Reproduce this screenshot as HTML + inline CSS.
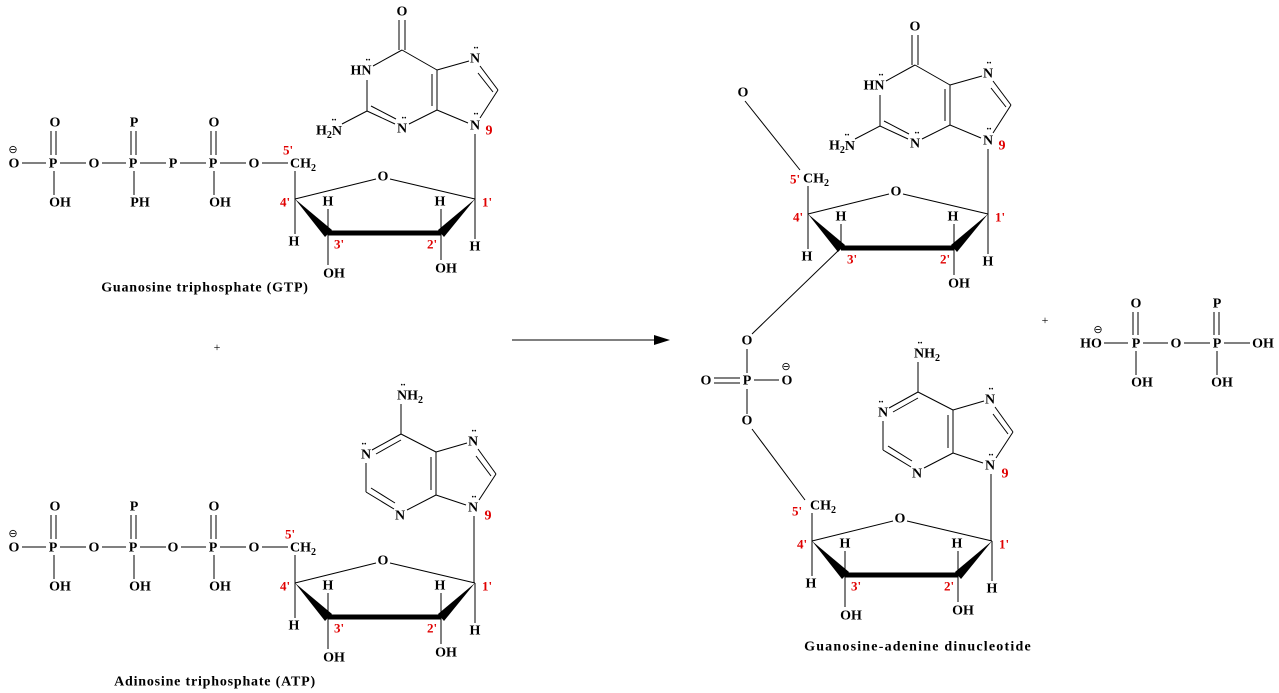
<!DOCTYPE html>
<html><head><meta charset="utf-8"><style>
html,body{margin:0;padding:0;background:#fff;}
svg{display:block;}
text{font-family:"Liberation Serif",serif;font-weight:bold;font-size:14px;fill:#000;text-anchor:middle;dominant-baseline:central;}
.r{fill:#e00000;}
.t{font-size:13px;}
.ti{font-size:14px;letter-spacing:0.8px;}
line,polyline{stroke:#000;stroke-width:1;fill:none;}
.b{stroke-width:5;}
</style></head><body>
<svg width="1279" height="693" viewBox="0 0 1279 693" xmlns="http://www.w3.org/2000/svg">

<g>
<text x="13" y="150" style="font-size:11px;font-weight:normal">⊖</text>
<text x="14" y="164">O</text>
<line x1="22" y1="163" x2="46" y2="163"/>
<text x="53" y="164">P</text>
<line x1="60" y1="163" x2="86" y2="163"/>
<text x="94" y="164">O</text>
<line x1="102" y1="163" x2="126" y2="163"/>
<text x="133" y="164">P</text>
<line x1="140" y1="163" x2="166" y2="163"/>
<text x="173" y="164">P</text>
<line x1="180" y1="163" x2="206" y2="163"/>
<text x="213" y="164">P</text>
<line x1="220" y1="163" x2="246" y2="163"/>
<text x="254" y="164">O</text>
<line x1="262" y1="163" x2="288" y2="163"/>
<text x="55" y="123">O</text>
<line x1="51" y1="131" x2="51" y2="155"/><line x1="56" y1="131" x2="56" y2="155"/>
<text x="134" y="123">P</text>
<line x1="131" y1="131" x2="131" y2="155"/><line x1="136" y1="131" x2="136" y2="155"/>
<text x="214" y="123">O</text>
<line x1="211" y1="131" x2="211" y2="155"/><line x1="216" y1="131" x2="216" y2="155"/>
<line x1="54" y1="171" x2="54" y2="195"/><text x="60" y="203">OH</text>
<line x1="134" y1="171" x2="134" y2="195"/><text x="140" y="203">PH</text>
<line x1="214" y1="171" x2="214" y2="195"/><text x="220" y="203">OH</text>
<text x="303" y="164">CH<tspan dy="4" style="font-size:10px">2</tspan></text>
<text class="r t" x="288" y="150">5'</text>
</g>

<g transform="translate(0,384)">
<text x="13" y="150" style="font-size:11px;font-weight:normal">⊖</text>
<text x="14" y="164">O</text>
<line x1="22" y1="163" x2="46" y2="163"/>
<text x="53" y="164">P</text>
<line x1="60" y1="163" x2="86" y2="163"/>
<text x="94" y="164">O</text>
<line x1="102" y1="163" x2="126" y2="163"/>
<text x="133" y="164">P</text>
<line x1="140" y1="163" x2="166" y2="163"/>
<text x="173" y="164">O</text>
<line x1="181" y1="163" x2="206" y2="163"/>
<text x="213" y="164">P</text>
<line x1="220" y1="163" x2="246" y2="163"/>
<text x="254" y="164">O</text>
<line x1="262" y1="163" x2="288" y2="163"/>
<text x="55" y="123">O</text>
<line x1="51" y1="131" x2="51" y2="155"/><line x1="56" y1="131" x2="56" y2="155"/>
<text x="134" y="123">P</text>
<line x1="131" y1="131" x2="131" y2="155"/><line x1="136" y1="131" x2="136" y2="155"/>
<text x="214" y="123">O</text>
<line x1="211" y1="131" x2="211" y2="155"/><line x1="216" y1="131" x2="216" y2="155"/>
<line x1="54" y1="171" x2="54" y2="195"/><text x="60" y="203">OH</text>
<line x1="134" y1="171" x2="134" y2="195"/><text x="140" y="203">OH</text>
<line x1="214" y1="171" x2="214" y2="195"/><text x="220" y="203">OH</text>
<text x="303" y="164">CH<tspan dy="4" style="font-size:10px">2</tspan></text>
<text class="r t" x="290" y="150">5'</text>
</g>

<g>
<text x="402" y="12">O</text>
<line x1="399" y1="20" x2="399" y2="50"/><line x1="405" y1="20" x2="405" y2="50"/>
<line x1="402" y1="50" x2="373" y2="66"/>
<text x="361" y="71">HN</text><text x="368" y="58" style="font-size:10px">..</text>
<line x1="367" y1="80" x2="367" y2="111"/>
<line x1="367" y1="111" x2="342" y2="124"/>
<text x="329" y="131">H<tspan dy="4" style="font-size:10px">2</tspan><tspan dy="-4">N</tspan></text><text x="334" y="118" style="font-size:10px">..</text>
<line x1="367" y1="111" x2="395" y2="124"/><line x1="371" y1="106" x2="396" y2="119"/>
<text x="402" y="129">N</text><text x="404" y="116" style="font-size:10px">..</text>
<line x1="409" y1="124" x2="437" y2="110"/>
<line x1="437" y1="110" x2="437" y2="70"/><line x1="432" y1="106" x2="432" y2="74"/>
<line x1="437" y1="70" x2="402" y2="50"/>
<line x1="437" y1="70" x2="469" y2="61"/>
<text x="475" y="59">N</text><text x="476" y="46" style="font-size:10px">..</text>
<line x1="480" y1="66" x2="498" y2="90"/><line x1="478" y1="73" x2="493" y2="92"/>
<line x1="498" y1="90" x2="480" y2="118"/>
<text x="475" y="126">N</text><text x="476" y="112" style="font-size:10px">..</text>
<line x1="468" y1="123" x2="437" y2="110"/>
<text class="r" x="489" y="131">9</text>
<line x1="475" y1="134" x2="475" y2="199"/>
</g>

<g>
<text x="410" y="396">NH<tspan dy="4" style="font-size:10px">2</tspan></text><text x="403" y="383" style="font-size:10px">..</text>
<line x1="401" y1="404" x2="401" y2="434"/>
<line x1="401" y1="434" x2="372" y2="450"/><line x1="401" y1="440" x2="376" y2="454"/>
<text x="366" y="455">N</text><text x="364" y="442" style="font-size:10px">..</text>
<line x1="366" y1="463" x2="366" y2="492"/>
<line x1="366" y1="492" x2="394" y2="509"/><line x1="371" y1="488" x2="395" y2="503"/>
<text x="400" y="516">N</text>
<line x1="407" y1="510" x2="436" y2="495"/>
<line x1="436" y1="495" x2="436" y2="452"/><line x1="431" y1="490" x2="431" y2="457"/>
<line x1="436" y1="452" x2="401" y2="434"/>
<line x1="436" y1="452" x2="467" y2="443"/>
<text x="473" y="442">N</text><text x="474" y="429" style="font-size:10px">..</text>
<line x1="478" y1="449" x2="496" y2="474"/><line x1="476" y1="456" x2="491" y2="476"/>
<line x1="496" y1="474" x2="479" y2="500"/>
<text x="473" y="508">N</text><text x="474" y="495" style="font-size:10px">..</text>
<line x1="466" y1="505" x2="436" y2="495"/>
<text class="r" x="488" y="516">9</text>
<line x1="474" y1="516" x2="474" y2="583"/>
</g>

<g>
<line x1="295" y1="171" x2="295" y2="199"/>
<line x1="295" y1="199" x2="376" y2="179"/>
<text x="383" y="177">O</text>
<line x1="390" y1="179" x2="475" y2="199"/>
<polygon points="295,199 325,237 332,230"/>
<line class="b" x1="328" y1="233" x2="441" y2="233"/>
<polygon points="475,199 438,230 444,237"/>
<line x1="295" y1="199" x2="295" y2="234"/><text x="294" y="242">H</text>
<line x1="328" y1="233" x2="328" y2="209"/><text x="328" y="202">H</text>
<line x1="328" y1="233" x2="328" y2="265"/><text x="334" y="274">OH</text>
<line x1="441" y1="233" x2="441" y2="209"/><text x="440" y="202">H</text>
<line x1="441" y1="233" x2="441" y2="260"/><text x="446" y="269">OH</text>
<line x1="475" y1="199" x2="475" y2="239"/><text x="475" y="247">H</text>
<text class="r t" x="285" y="202">4'</text>
<text class="r t" x="487" y="202">1'</text>
<text class="r t" x="339" y="244">3'</text>
<text class="r t" x="432" y="244">2'</text>
</g>

<g transform="translate(0,384)">
<line x1="295" y1="171" x2="295" y2="199"/>
<line x1="295" y1="199" x2="376" y2="179"/>
<text x="383" y="177">O</text>
<line x1="390" y1="179" x2="475" y2="199"/>
<polygon points="295,199 325,237 332,230"/>
<line class="b" x1="328" y1="233" x2="441" y2="233"/>
<polygon points="475,199 438,230 444,237"/>
<line x1="295" y1="199" x2="295" y2="234"/><text x="294" y="242">H</text>
<line x1="328" y1="233" x2="328" y2="209"/><text x="328" y="202">H</text>
<line x1="328" y1="233" x2="328" y2="265"/><text x="334" y="274">OH</text>
<line x1="441" y1="233" x2="441" y2="209"/><text x="440" y="202">H</text>
<line x1="441" y1="233" x2="441" y2="260"/><text x="446" y="269">OH</text>
<line x1="475" y1="199" x2="475" y2="239"/><text x="475" y="247">H</text>
<text class="r t" x="285" y="202">4'</text>
<text class="r t" x="487" y="202">1'</text>
<text class="r t" x="339" y="244">3'</text>
<text class="r t" x="432" y="244">2'</text>
</g>

<text x="205" y="288" class="ti">Guanosine triphosphate (GTP)</text>
<text x="215" y="682" class="ti">Adinosine triphosphate (ATP)</text>
<text x="217" y="347" style="font-weight:normal;font-size:12px">+</text>

<line x1="512" y1="340" x2="656" y2="340"/>
<polygon points="670,340 654,335 654,345"/>

<g transform="translate(513,15)">
<text x="402" y="12">O</text>
<line x1="399" y1="20" x2="399" y2="50"/><line x1="405" y1="20" x2="405" y2="50"/>
<line x1="402" y1="50" x2="373" y2="66"/>
<text x="361" y="71">HN</text><text x="368" y="58" style="font-size:10px">..</text>
<line x1="367" y1="80" x2="367" y2="111"/>
<line x1="367" y1="111" x2="342" y2="124"/>
<text x="329" y="131">H<tspan dy="4" style="font-size:10px">2</tspan><tspan dy="-4">N</tspan></text><text x="334" y="118" style="font-size:10px">..</text>
<line x1="367" y1="111" x2="395" y2="124"/><line x1="371" y1="106" x2="396" y2="119"/>
<text x="402" y="129">N</text><text x="404" y="116" style="font-size:10px">..</text>
<line x1="409" y1="124" x2="437" y2="110"/>
<line x1="437" y1="110" x2="437" y2="70"/><line x1="432" y1="106" x2="432" y2="74"/>
<line x1="437" y1="70" x2="402" y2="50"/>
<line x1="437" y1="70" x2="469" y2="61"/>
<text x="475" y="59">N</text><text x="476" y="46" style="font-size:10px">..</text>
<line x1="480" y1="66" x2="498" y2="90"/><line x1="478" y1="73" x2="493" y2="92"/>
<line x1="498" y1="90" x2="480" y2="118"/>
<text x="475" y="126">N</text><text x="476" y="112" style="font-size:10px">..</text>
<line x1="468" y1="123" x2="437" y2="110"/>
<text class="r" x="489" y="131">9</text>
<line x1="475" y1="134" x2="475" y2="199"/>
</g>

<g transform="translate(513,15)">
<line x1="295" y1="171" x2="295" y2="199"/>
<line x1="295" y1="199" x2="376" y2="179"/>
<text x="383" y="177">O</text>
<line x1="390" y1="179" x2="475" y2="199"/>
<polygon points="295,199 325,237 332,230"/>
<line class="b" x1="328" y1="233" x2="441" y2="233"/>
<polygon points="475,199 438,230 444,237"/>
<line x1="295" y1="199" x2="295" y2="234"/><text x="294" y="242">H</text>
<line x1="328" y1="233" x2="328" y2="209"/><text x="328" y="202">H</text>
<line x1="441" y1="233" x2="441" y2="209"/><text x="440" y="202">H</text>
<line x1="441" y1="233" x2="441" y2="260"/><text x="446" y="269">OH</text>
<line x1="475" y1="199" x2="475" y2="239"/><text x="475" y="247">H</text>
<text class="r t" x="285" y="202">4'</text>
<text class="r t" x="487" y="202">1'</text>
<text class="r t" x="339" y="244">3'</text>
<text class="r t" x="432" y="244">2'</text>
<text x="303" y="164">CH<tspan dy="4" style="font-size:10px">2</tspan></text>
<text class="r t" x="282" y="164">5'</text>
</g>
<text x="743" y="93">O</text>
<line x1="745" y1="101" x2="800" y2="170"/>

<line x1="841" y1="248" x2="752" y2="334"/>
<text x="747" y="341">O</text>
<line x1="747" y1="349" x2="747" y2="373"/>
<text x="747" y="381">P</text>
<text x="706" y="381">O</text>
<line x1="714" y1="378" x2="740" y2="378"/><line x1="714" y1="383" x2="740" y2="383"/>
<line x1="754" y1="380" x2="779" y2="380"/>
<text x="787" y="381">O</text>
<text x="786" y="367" style="font-size:11px;font-weight:normal">⊖</text>
<line x1="747" y1="389" x2="747" y2="414"/>
<text x="747" y="421">O</text>
<line x1="752" y1="429" x2="805" y2="500"/>

<g transform="translate(517,-42)">
<text x="410" y="396">NH<tspan dy="4" style="font-size:10px">2</tspan></text><text x="403" y="383" style="font-size:10px">..</text>
<line x1="401" y1="404" x2="401" y2="434"/>
<line x1="401" y1="434" x2="372" y2="450"/><line x1="401" y1="440" x2="376" y2="454"/>
<text x="366" y="455">N</text><text x="364" y="442" style="font-size:10px">..</text>
<line x1="366" y1="463" x2="366" y2="492"/>
<line x1="366" y1="492" x2="394" y2="509"/><line x1="371" y1="488" x2="395" y2="503"/>
<text x="400" y="516">N</text>
<line x1="407" y1="510" x2="436" y2="495"/>
<line x1="436" y1="495" x2="436" y2="452"/><line x1="431" y1="490" x2="431" y2="457"/>
<line x1="436" y1="452" x2="401" y2="434"/>
<line x1="436" y1="452" x2="467" y2="443"/>
<text x="473" y="442">N</text><text x="474" y="429" style="font-size:10px">..</text>
<line x1="478" y1="449" x2="496" y2="474"/><line x1="476" y1="456" x2="491" y2="476"/>
<line x1="496" y1="474" x2="479" y2="500"/>
<text x="473" y="508">N</text><text x="474" y="495" style="font-size:10px">..</text>
<line x1="466" y1="505" x2="436" y2="495"/>
<text class="r" x="488" y="516">9</text>
<line x1="474" y1="516" x2="474" y2="583"/>
</g>

<g transform="translate(517,342)">
<line x1="295" y1="171" x2="295" y2="199"/>
<line x1="295" y1="199" x2="376" y2="179"/>
<text x="383" y="177">O</text>
<line x1="390" y1="179" x2="475" y2="199"/>
<polygon points="295,199 325,237 332,230"/>
<line class="b" x1="328" y1="233" x2="441" y2="233"/>
<polygon points="475,199 438,230 444,237"/>
<line x1="295" y1="199" x2="295" y2="234"/><text x="294" y="242">H</text>
<line x1="328" y1="233" x2="328" y2="209"/><text x="328" y="202">H</text>
<line x1="328" y1="233" x2="328" y2="265"/><text x="334" y="274">OH</text>
<line x1="441" y1="233" x2="441" y2="209"/><text x="440" y="202">H</text>
<line x1="441" y1="233" x2="441" y2="260"/><text x="446" y="269">OH</text>
<line x1="475" y1="199" x2="475" y2="239"/><text x="475" y="247">H</text>
<text class="r t" x="285" y="202">4'</text>
<text class="r t" x="487" y="202">1'</text>
<text class="r t" x="339" y="244">3'</text>
<text class="r t" x="432" y="244">2'</text>
<text x="306" y="164">CH<tspan dy="4" style="font-size:10px">2</tspan></text>
<text class="r t" x="280" y="169">5'</text>
</g>

<text x="918" y="647" class="ti" style="letter-spacing:1.2px">Guanosine-adenine dinucleotide</text>

<text x="1045" y="320" style="font-weight:normal;font-size:12px">+</text>
<text x="1098" y="330" style="font-size:11px;font-weight:normal">⊖</text>
<text x="1091" y="344">HO</text>
<line x1="1104" y1="343" x2="1128" y2="343"/>
<text x="1136" y="344">P</text>
<line x1="1143" y1="343" x2="1168" y2="343"/>
<text x="1176" y="344">O</text>
<line x1="1184" y1="343" x2="1210" y2="343"/>
<text x="1217" y="344">P</text>
<line x1="1224" y1="343" x2="1250" y2="343"/>
<text x="1263" y="344">OH</text>
<text x="1136" y="304">O</text>
<line x1="1133" y1="312" x2="1133" y2="335"/><line x1="1138" y1="312" x2="1138" y2="335"/>
<text x="1217" y="304">P</text>
<line x1="1214" y1="312" x2="1214" y2="335"/><line x1="1219" y1="312" x2="1219" y2="335"/>
<line x1="1136" y1="351" x2="1136" y2="375"/><text x="1142" y="383">OH</text>
<line x1="1217" y1="351" x2="1217" y2="375"/><text x="1222" y="383">OH</text>
</svg>
</body></html>
